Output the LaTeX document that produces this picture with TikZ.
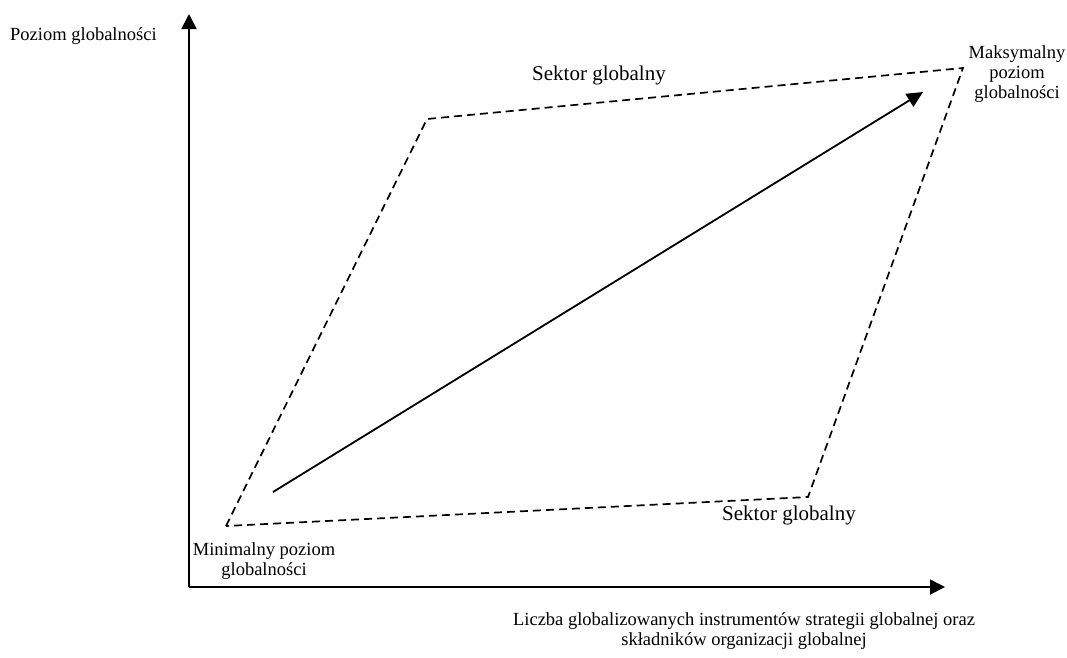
\documentclass[tikz,border=0pt]{standalone}
\usepackage{fontspec}
\setmainfont{Liberation Serif}
\usetikzlibrary{arrows.meta}
\begin{document}
\begin{tikzpicture}[x=1pt,y=-1pt,
  lbl/.style={inner sep=0pt,font=\fontsize{18.5}{20}\selectfont,align=center},
  sector/.style={inner sep=0pt,font=\fontsize{21}{24}\selectfont},
  axis/.style={line width=1.8pt,-{Triangle[length=15pt,width=15pt]}},
  trend/.style={line width=1.8pt,-{Triangle[length=16pt,width=15pt]}},
  border/.style={line width=1.7pt,dash pattern=on 8pt off 5pt}]
\useasboundingbox (0,0) rectangle (1067,657);

% axes
\coordinate (O) at (189,587);
\coordinate (ytip) at (189,14);
\coordinate (xtip) at (945,587);
\draw[axis] (O) -- (ytip);
\draw[axis] (O) -- (xtip);

% sector of globality
\coordinate (A) at (226,526);
\coordinate (B) at (427,119);
\coordinate (C) at (963,68);
\coordinate (D) at (808,497);
\draw[border] (A) -- (B) -- (C) -- (D) -- cycle;

% growth of globality
\coordinate (s) at (273,492);
\coordinate (e) at (923,92);
\draw[trend] (s) -- (e);

% labels
\node[lbl,anchor=base west] (ylab) at (10,40) {Poziom globalności};
\node[lbl,anchor=north] (xlab) at (744,612.4)
  {Liczba globalizowanych instrumentów strategii globalnej oraz\\składników organizacji globalnej};
\node[lbl,anchor=north] (maxlab) at (1017,45.4) {Maksymalny\\poziom\\globalności};
\node[lbl,anchor=north] (minlab) at (264,542.4) {Minimalny poziom\\globalności};
\node[sector,anchor=base west] (sectop) at (532,80) {Sektor globalny};
\node[sector,anchor=base west] (secbot) at (722,520) {Sektor globalny};
\end{tikzpicture}
\end{document}
